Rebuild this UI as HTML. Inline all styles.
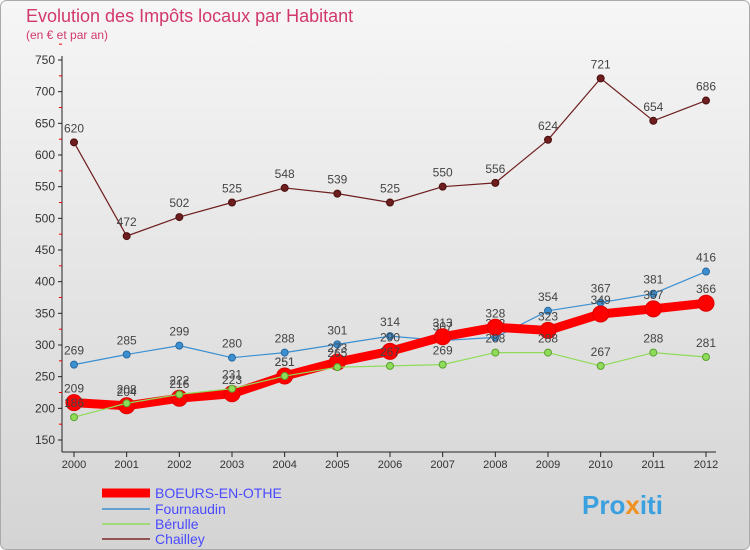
<!DOCTYPE html>
<html><head><meta charset="utf-8"><style>
body{margin:0;width:750px;height:550px;overflow:hidden;font-family:"Liberation Sans",sans-serif}
</style></head><body>
<svg id="c" width="750" height="550" style="display:block">
<defs><linearGradient id="bg" x1="0" y1="0" x2="0" y2="1"><stop offset="0" stop-color="#f6f6f6"/><stop offset="1" stop-color="#d4d4d4"/></linearGradient></defs>
<rect x="0.5" y="0.5" width="749" height="549" rx="6" fill="url(#bg)" stroke="#aaa"/>
<text x="26" y="22" font-size="18" fill="#d2386c">Evolution des Impôts locaux par Habitant</text>
<text x="26" y="39" font-size="12" fill="#d2386c">(en € et par an)</text>
<g id="axes"></g><g id="series"></g>
<g font-size="14">
<line x1="102" y1="493" x2="150" y2="493" stroke="#f00" stroke-width="9"/>
<text x="155" y="498" fill="#4a4aff">BOEURS-EN-OTHE</text>
<line x1="102" y1="509" x2="150" y2="509" stroke="#3b8fd0" stroke-width="1.5"/>
<text x="155" y="514" fill="#4a4aff">Fournaudin</text>
<line x1="102" y1="524" x2="150" y2="524" stroke="#8fdc5a" stroke-width="1.5"/>
<text x="155" y="529" fill="#4a4aff">Bérulle</text>
<line x1="102" y1="539" x2="150" y2="539" stroke="#7a2a2a" stroke-width="1.5"/>
<text x="155" y="544" fill="#4a4aff">Chailley</text>
</g>
<text x="582" y="514" font-size="26" font-weight="bold" fill="#3aa0e0">Pro<tspan fill="#f09020">x</tspan>iti</text>
</svg>
<script>
const years=[2000,2001,2002,2003,2004,2005,2006,2007,2008,2009,2010,2011,2012];
const yTicks=[150,200,250,300,350,400,450,500,550,600,650,700,750];
const boeurs=[209,204,216,223,251,273,290,313,328,323,349,357,366];
const fournaudin=[269,285,299,280,288,301,314,307,312,354,367,381,416];
const berulle=[186,208,222,231,251,265,267,269,288,288,267,288,281];
const chailley=[620,472,502,525,548,539,525,550,556,624,721,654,686];
const NS="http://www.w3.org/2000/svg";
const x=i=>74+i*(706-74)/(years.length-1);
const y=v=>440-(v-150)*(380/600);
function mk(t,a,p){const e=document.createElementNS(NS,t);for(const k in a)e.setAttribute(k,a[k]);p.appendChild(e);return e;}
const ax=document.getElementById('axes');
const yl=mk('line',{x1:62,y1:56,x2:62,y2:452,stroke:'#222'},ax);


const xl=mk('line',{x1:62,y1:452,x2:716,y2:452,stroke:'#222'},ax);


yTicks.forEach(v=>{
 mk('line',{x1:58,y1:y(v),x2:62,y2:y(v),stroke:'#222'},ax);
 mk('line',{x1:59,y1:y(v+25),x2:62,y2:y(v+25),stroke:'#e00'},ax);
 const t=mk('text',{x:55,y:y(v)+4,'text-anchor':'end','font-size':12,fill:'#333'},ax);t.textContent=v;
 
 
});
years.forEach((yr,i)=>{
 mk('line',{x1:x(i),y1:452,x2:x(i),y2:457,stroke:'#222'},ax);
 const t=mk('text',{x:x(i),y:468,'text-anchor':'middle','font-size':11,fill:'#333'},ax);t.textContent=yr;
 
 
});
const sg=document.getElementById('series');
function draw(name,vals,color,w,r,lw){
 const g=mk('g',{},sg);
 
 
 const l=mk('polyline',{points:vals.map((v,i)=>x(i)+','+y(v)).join(' '),fill:'none',stroke:color,'stroke-width':w,'stroke-linejoin':'round'},g);
 
 
 vals.forEach((v,i)=>{
  const c=mk('circle',{cx:x(i),cy:y(v),r:r,fill:color,stroke:lw,'stroke-width':1},g);
  
  
  const t=mk('text',{x:x(i),y:y(v)-10,'text-anchor':'middle','font-size':12,fill:'#444'},g);t.textContent=v;
  
  
 });
}
draw('chailley',chailley,'#6e1e1e',1.2,3.5,'#4a1010');
draw('fournaudin',fournaudin,'#3b8fd0',1.2,3.5,'#2a6aa0');
draw('boeurs',boeurs,'#f00',9,8,'#d00');
draw('berulle',berulle,'#8fdc5a',1.2,3.5,'#5aa030');
</script>
</body></html>
